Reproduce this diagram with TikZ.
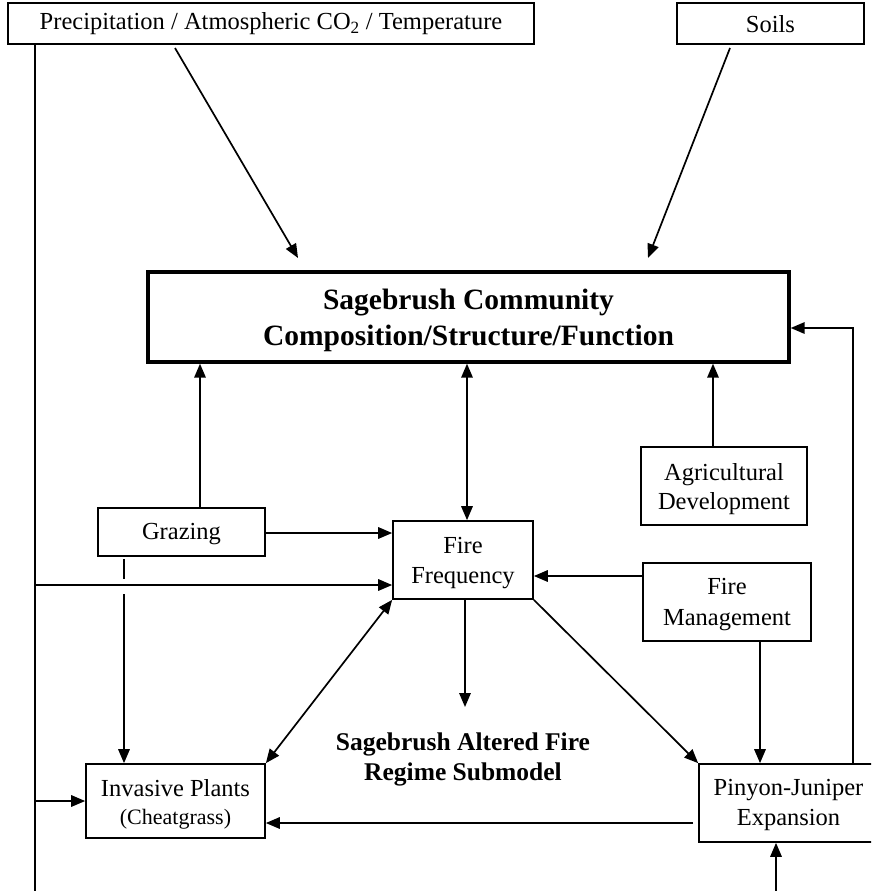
\documentclass[tikz,border=0pt]{standalone}
\usepackage{fontspec}
\setmainfont{Liberation Serif}
\usetikzlibrary{arrows.meta}

\tikzset{
  box/.style={draw, line width=1.7pt, rectangle, inner sep=0pt, align=center,
              font=\fontsize{24.5}{30}\selectfont},
  mainbox/.style={draw, line width=3.4pt, rectangle, inner sep=0pt, align=center,
              font=\bfseries\fontsize{29.5}{36}\selectfont},
  tip/.tip={Triangle[length=14pt,width=11.5pt]},
  arr/.style={line width=1.7pt, -tip},
  dblarr/.style={line width=1.7pt, tip-tip},
  plain/.style={line width=1.7pt},
  title/.style={inner sep=0pt, align=center, font=\bfseries\fontsize{25.5}{30}\selectfont}
}

\begin{document}
\begin{tikzpicture}[x=1pt, y=1pt]
\useasboundingbox (0,0) rectangle (871,-891);
\clip (0,0) rectangle (871,-891);

% boxes
\node[box, minimum width=526pt, minimum height=41pt] (precip) at (271,-23.5) {};
\node at (271,-24) [font=\fontsize{24.5}{30}\selectfont, inner sep=0pt] (precipText)
  {Precipitation / Atmospheric CO\textsubscript{2} / Temperature};
\node[box, minimum width=187pt, minimum height=41pt] (soils) at (770.5,-23.5) {};
\node at (770.5,-24) [font=\fontsize{24.5}{30}\selectfont, inner sep=0pt] (soilsText) {Soils};
\node[mainbox, minimum width=641pt, minimum height=90pt] (main) at (468.5,-317) {};
\node at (468.5,-320) [font=\bfseries\fontsize{29.5}{36}\selectfont, align=center, inner sep=0pt] (mainText)
  {Sagebrush Community\\Composition/Structure/Function};
\node[box, minimum width=167pt, minimum height=48pt] (graz) at (181.5,-532) {};
\node at (181.5,-534) [font=\fontsize{24.5}{30}\selectfont, inner sep=0pt] (grazText) {Grazing};
\node[box, minimum width=140pt, minimum height=78pt] (fire) at (463,-560) {};
\node at (463,-563) [font=\fontsize{24.5}{30}\selectfont, align=center, inner sep=0pt] (fireText) {Fire\\Frequency};
\node[box, minimum width=166pt, minimum height=78pt] (agri) at (724,-486) {};
\node at (724,-489) [font=\fontsize{24.5}{29}\selectfont, align=center, inner sep=0pt] (agriText) {Agricultural\\Development};
\node[box, minimum width=168pt, minimum height=78pt] (fmgmt) at (727,-602) {};
\node at (727,-605) [font=\fontsize{24.5}{31}\selectfont, align=center, inner sep=0pt] (fmgmtText) {Fire\\Management};
\node[box, minimum width=179pt, minimum height=74pt] (inv) at (175.5,-801) {};
\node at (175.5,-804) [font=\fontsize{24.5}{28}\selectfont, align=center, inner sep=0pt] (invText)
  {Invasive Plants\\{\fontsize{22}{28}\selectfont(Cheatgrass)}};
\node[box, minimum width=179pt, minimum height=78pt] (pj) at (788.5,-803) {};
\node at (788.5,-805) [font=\fontsize{24.5}{30}\selectfont, align=center, inner sep=0pt] (pjText) {Pinyon-Juniper\\Expansion};
\node[title] (sub) at (463,-759) {Sagebrush Altered Fire\\Regime Submodel};

% helper coordinates
\coordinate (pA) at (175,-48);
\coordinate (pB) at (298,-258);
\coordinate (sA) at (730,-48);
\coordinate (sB) at (648,-258);
\coordinate (leftTop) at (35,-44);
\coordinate (leftBot) at (35,-891);
\coordinate (leftFire) at (35,-585);
\coordinate (leftInv) at (35,-801);
\coordinate (gzA) at (124,-559);
\coordinate (gzB) at (124,-579);
\coordinate (gzC) at (124,-594);
\coordinate (fireDown) at (465,-707);
\coordinate (rightTurn) at (853,-328);
\coordinate (pjGap) at (693,-823);
\coordinate (bottomPJ) at (776,-891);

% climate and soils
\draw[arr] (pA) -- (pB);
\draw[arr] (sA) -- (sB);

% drivers of community
\draw[arr] (graz.north -| 200,0) -- (main.south -| 200,0);
\draw[dblarr] (main.south -| 467,0) -- (fire.north -| 467,0);
\draw[arr] (agri.north -| 713,0) -- (main.south -| 713,0);

% climate line on the left
\draw[plain] (leftTop) -- (leftBot);
\draw[arr] (leftFire) -- (leftFire -| fire.west);
\draw[arr] (leftInv) -- (inv.west);

% grazing
\draw[arr] (graz.east |- 0,-533) -- (fire.west |- 0,-533);
\draw[plain] (gzA) -- (gzB);
\draw[arr] (gzC) -- (gzC |- inv.north);

% fire frequency links
\draw[dblarr] (inv.north east) -- (fire.south west);
\draw[arr] (fire.south -| fireDown) -- (fireDown);
\draw[arr] (fire.south east) -- (pj.north west);
\draw[arr] (fmgmt.west |- 0,-576) -- (fire.east |- 0,-576);
\draw[arr] (fmgmt.south -| 760,0) -- (pj.north -| 760,0);

% pinyon-juniper feedbacks
\draw[arr] (pj.north -| rightTurn) -- (rightTurn) -- (rightTurn -| main.east);
\draw[arr] (pjGap) -- (pjGap -| inv.east);
\draw[arr] (bottomPJ) -- (bottomPJ |- pj.south);
\end{tikzpicture}
\end{document}
